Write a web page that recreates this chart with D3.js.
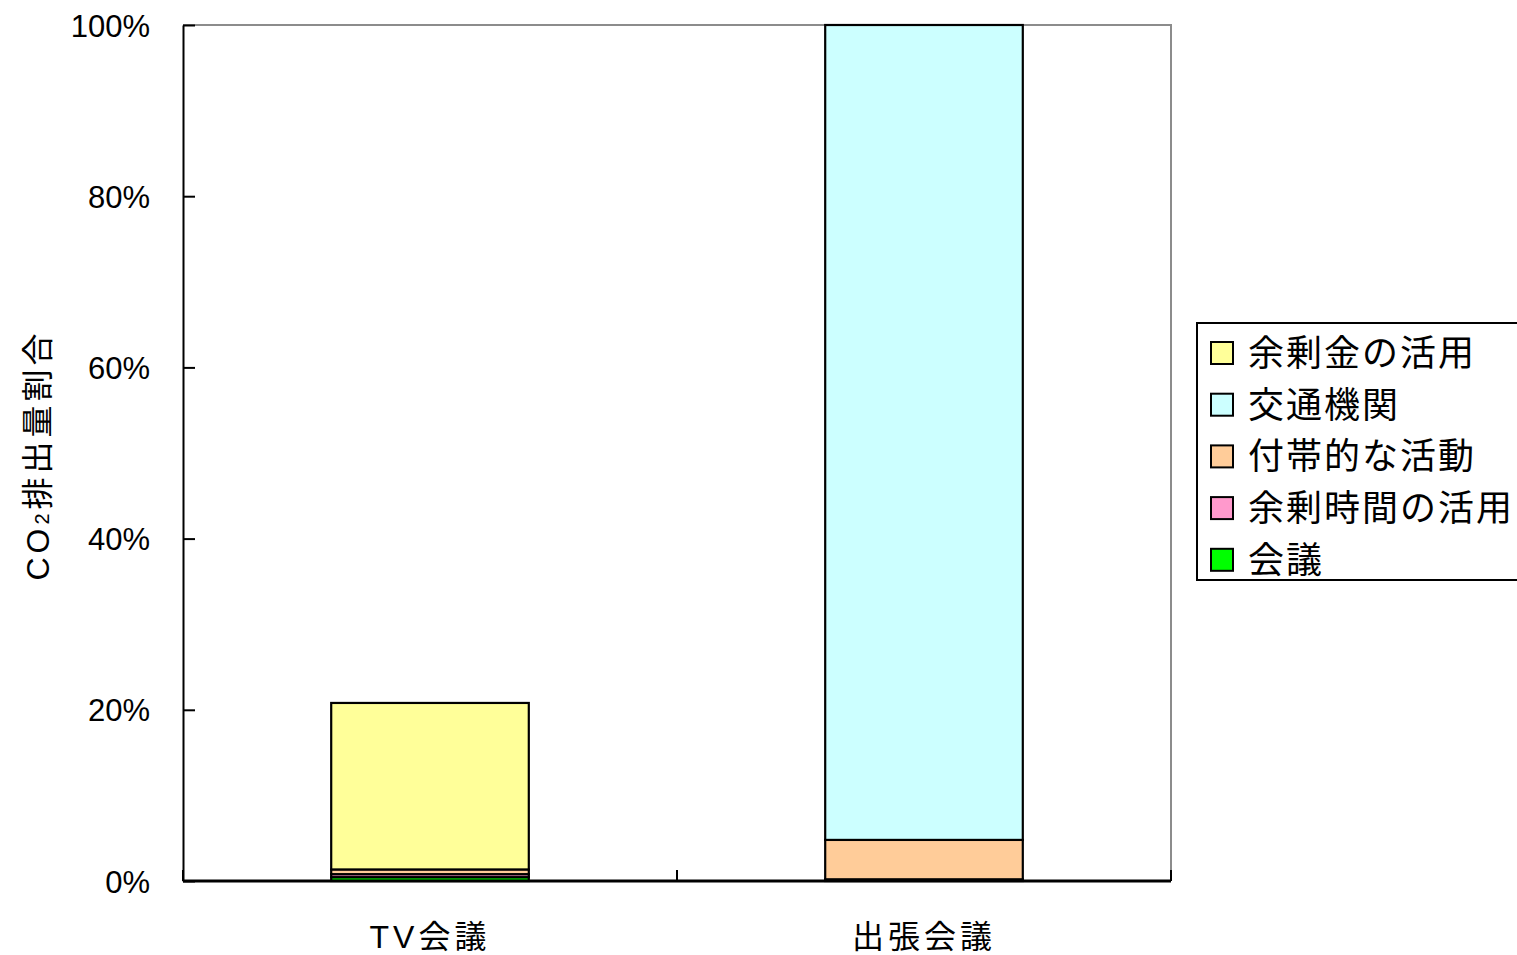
<!DOCTYPE html>
<html lang="ja">
<head>
<meta charset="UTF-8">
<title>CO2排出量割合</title>
<script src="https://d3js.org/d3.v7.min.js"></script>
<style>
  body { margin: 0; background: #fff; }
  text { font-family: "Liberation Sans", "Noto Sans CJK JP", sans-serif; fill: #000; }
</style>
</head>
<body>
<script>
// categories and series (percent of 出張会議 total), bottom to top
const categories = ["TV会議", "出張会議"];
const seriesNames = ["会議", "余剰時間の活用", "付帯的な活動", "交通機関", "余剰金の活用"];
const meeting   = [0.45, 0.2];
const spareTime = [0.35, 0.0];
const incidental = [0.55, 4.6];
const transport = [0.0, 95.2];
const spareMoney = [19.45, 0.0];
const yTicks = [0, 20, 40, 60, 80, 100];
const colors = ["#00ff00", "#ff99cc", "#ffcc99", "#ccffff", "#ffff99"];

const width = 1517, height = 955;
const plotL = 183, plotR = 1171, plotT = 25, plotB = 881;

const svg = d3.select("body").append("svg")
  .attr("width", width).attr("height", height);

const x = d3.scaleBand().domain(categories).range([plotL, plotR])
  .paddingInner(0.6).paddingOuter(0.3);
const y = d3.scaleLinear().domain([0, 100]).range([plotB, plotT]);

// table for stacking
const values = [meeting, spareTime, incidental, transport, spareMoney];
const table = categories.map((c, i) => {
  const row = { cat: c };
  seriesNames.forEach((s, k) => row[s] = values[k][i]);
  return row;
});
const stacked = d3.stack().keys(seriesNames)(table);

// plot frame (top/right gray)
svg.append("path")
  .attr("d", `M${plotL},${plotT}H${plotR}V${plotB}`)
  .attr("fill", "none").attr("stroke", "#8c8c8c").attr("stroke-width", 2);

// bars
svg.selectAll(".series").data(stacked).enter().append("g")
  .attr("fill", (d, i) => colors[i])
  .selectAll("rect").data(d => d).enter().append("rect")
  .attr("x", d => x(d.data.cat))
  .attr("width", x.bandwidth())
  .attr("y", d => y(d[1]))
  .attr("height", d => y(d[0]) - y(d[1]))
  .attr("stroke", "#000").attr("stroke-width", 2.2);

// y axis, ticks pointing inwards
const yAxis = svg.append("g").attr("transform", `translate(${plotL},0)`)
  .call(d3.axisLeft(y).tickValues(yTicks).tickSizeInner(-12).tickSizeOuter(0)
    .tickPadding(33).tickFormat(d => d + "%"));
yAxis.select(".domain").attr("stroke", "#000").attr("stroke-width", 2);
yAxis.selectAll(".tick line").attr("stroke", "#000").attr("stroke-width", 2);
yAxis.selectAll(".tick text").style("font-size", "31px").attr("dy", "0.36em");

// x axis
svg.append("line")
  .attr("x1", plotL).attr("x2", plotR).attr("y1", plotB).attr("y2", plotB)
  .attr("stroke", "#000").attr("stroke-width", 3);
const xTickPos = [plotL, (plotL + plotR) / 2, plotR];
svg.selectAll(".xtick").data(xTickPos).enter().append("line")
  .attr("x1", d => d).attr("x2", d => d)
  .attr("y1", plotB).attr("y2", plotB - 11)
  .attr("stroke", "#000").attr("stroke-width", 2);
svg.selectAll(".xlabel").data(categories).enter().append("text")
  .attr("x", d => x(d) + x.bandwidth() / 2)
  .attr("y", 948)
  .attr("text-anchor", "middle")
  .style("font-size", "32px")
  .style("letter-spacing", "4px")
  .text(d => d);

// y title
const yt = svg.append("text")
  .attr("transform", "translate(49,455) rotate(-90)")
  .attr("text-anchor", "middle")
  .style("font-size", "32px")
  .style("letter-spacing", "4px");
yt.append("tspan").text("CO");
yt.append("tspan").text("2").style("font-size", "20px");
yt.append("tspan").text("排出量割合");

// legend (top-most series first)
const legend = svg.append("g");
legend.append("rect")
  .attr("x", 1197).attr("y", 323).attr("width", 340).attr("height", 257)
  .attr("fill", "#fff").attr("stroke", "#000").attr("stroke-width", 2);
const legendItems = seriesNames.map((s, i) => ({ name: s, color: colors[i] })).reverse();
const li = legend.selectAll(".li").data(legendItems).enter().append("g")
  .attr("transform", (d, i) => `translate(1211,${353 + i * 51.7})`);
li.append("rect")
  .attr("x", 0).attr("y", -11).attr("width", 22).attr("height", 22)
  .attr("fill", d => d.color).attr("stroke", "#000").attr("stroke-width", 2);
li.append("text")
  .attr("x", 37).attr("y", 0).attr("dy", "0.36em")
  .style("font-size", "36px")
  .style("letter-spacing", "2px")
  .text(d => d.name);
</script>
</body>
</html>
